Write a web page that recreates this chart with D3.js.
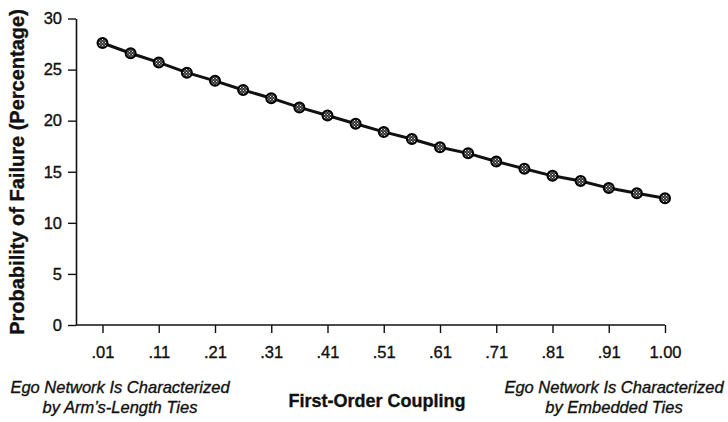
<!DOCTYPE html>
<html>
<head>
    <meta charset="utf-8">
    <script type="text/javascript" src="https://d3js.org/d3.v7.min.js"></script>
    <style>
        body { margin: 0; background: #fff; }
        text { font-family: "Liberation Sans", Arial, Helvetica, sans-serif; fill: #111; stroke: #111; stroke-width: 0.35px; }
    </style>
</head>
<body>
<div id="datavis"></div>
<script type="text/javascript">
    // coupling levels (every point on the line), only every other one gets a label
    var couplingLevels = [".01", ".06", ".11", ".16", ".21", ".26", ".31", ".36", ".41", ".46",
                          ".51", ".56", ".61", ".66", ".71", ".76", ".81", ".86", ".91", ".96", "1.00"];
    var tickLabels = [".01", ".11", ".21", ".31", ".41", ".51", ".61", ".71", ".81", ".91", "1.00"];
    // probability of failure
    var failurePct = [27.6, 26.6, 25.7, 24.7, 23.9, 23.0, 22.2, 21.3, 20.5, 19.7,
                      18.9, 18.2, 17.4, 16.8, 16.0, 15.3, 14.6, 14.1, 13.4, 12.9, 12.4];
    var yTicks = [0, 5, 10, 15, 20, 25, 30];

    var width = 728, height = 422;
    var axisLeft = 76, axisBottom = 325, axisTop = 18.5;

    var svg = d3.select("#datavis")
        .append("svg")
            .attr("width", width)
            .attr("height", height);

    // speckled dark fill for the markers
    var pat = svg.append("defs").append("pattern")
        .attr("id", "dots")
        .attr("width", 3).attr("height", 3)
        .attr("patternUnits", "userSpaceOnUse");
    pat.append("rect").attr("width", 3).attr("height", 3).attr("fill", "#333");
    pat.append("rect").attr("width", 1).attr("height", 1).attr("fill", "#eee");
    pat.append("rect").attr("x", 1.5).attr("y", 1.5).attr("width", 1).attr("height", 1).attr("fill", "#ccc");

    var x = d3.scalePoint()
        .domain(couplingLevels)
        .range([102.5, 665]);

    var y = d3.scaleLinear()
        .domain([0, 30])
        .range([axisBottom, axisTop]);

    // Y axis
    var gy = svg.append("g")
        .attr("transform", "translate(" + axisLeft + ",0)")
        .call(d3.axisLeft(y).tickValues(yTicks).tickSize(8).tickPadding(6).tickSizeOuter(0));
    gy.select(".domain").attr("stroke", "#111").attr("stroke-width", 1.6);
    gy.selectAll(".tick line").attr("stroke", "#111").attr("stroke-width", 1.4);
    gy.selectAll("text").style("font-size", "16.5px").attr("fill", "#111");

    // X axis
    var gx = svg.append("g")
        .attr("transform", "translate(0," + axisBottom + ")")
        .call(d3.axisBottom(x).tickValues(tickLabels).tickSize(8).tickPadding(13));
    gx.select(".domain").remove();
    gx.selectAll(".tick line").attr("stroke", "#111").attr("stroke-width", 1.4);
    gx.selectAll("text").style("font-size", "16.5px").attr("fill", "#111");
    gx.append("line")
        .attr("x1", axisLeft).attr("x2", x(couplingLevels[couplingLevels.length - 1]))
        .attr("y1", 0).attr("y2", 0)
        .attr("stroke", "#111").attr("stroke-width", 1.6);

    // line
    var line = d3.line()
        .x(function(d, i) { return x(couplingLevels[i]); })
        .y(function(d) { return y(d); });
    svg.append("path")
        .datum(failurePct)
        .attr("d", line)
        .attr("fill", "none")
        .attr("stroke", "#111")
        .attr("stroke-width", 3);

    // markers
    svg.selectAll("circle.pt")
        .data(failurePct)
        .enter()
        .append("circle")
            .attr("class", "pt")
            .attr("cx", function(d, i) { return x(couplingLevels[i]); })
            .attr("cy", function(d) { return y(d); })
            .attr("r", 5)
            .attr("fill", "url(#dots)")
            .attr("stroke", "#000")
            .attr("stroke-width", 2);

    // y axis title
    svg.append("text")
        .text("Probability of Failure (Percentage)")
        .attr("transform", "translate(24,172)rotate(-90)")
        .attr("text-anchor", "middle")
        .style("font-size", "20px")
        .style("font-weight", "bold");

    // x axis title
    svg.append("text")
        .text("First-Order Coupling")
        .attr("x", 377).attr("y", 407)
        .attr("text-anchor", "middle")
        .style("font-size", "18px")
        .style("font-weight", "bold");

    // end notes
    var notes = [
        {cx: 120, lines: ["Ego Network Is Characterized", "by Arm\u2019s-Length Ties"]},
        {cx: 614, lines: ["Ego Network Is Characterized", "by Embedded Ties"]}
    ];
    notes.forEach(function(n) {
        n.lines.forEach(function(t, k) {
            svg.append("text")
                .text(t)
                .attr("x", n.cx).attr("y", 393 + k * 20)
                .attr("text-anchor", "middle")
                .style("font-size", "16.5px")
                .style("font-style", "italic");
        });
    });
</script>
</body>
</html>
